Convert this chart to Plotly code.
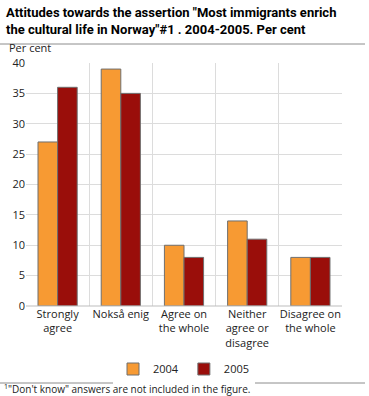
import plotly.graph_objects as go

categories = ["Strongly<br>agree", "Nokså enig", "Agree on<br>the whole",
              "Neither<br>agree or<br>disagree", "Disagree on<br>the whole"]
values_2004 = [27, 39, 10, 14, 8]
values_2005 = [36, 35, 8, 11, 8]
y_ticks = [0, 5, 10, 15, 20, 25, 30, 35, 40]

W, H = 369, 396
L, R, T, B = 26, 27, 63, 90
pw, ph = W - L - R, H - T - B

def px(x):
    return (x - L) / pw

def py(y):
    return (H - B - y) / ph

font = "Open Sans"
fig = go.Figure()
fig.add_bar(x=categories, y=values_2004, name="2004",
            marker=dict(color="#F79A33", line=dict(color="#6f6f6f", width=1)))
fig.add_bar(x=categories, y=values_2005, name="2005",
            marker=dict(color="#9A0E0A", line=dict(color="#6f6f6f", width=1)))

fig.update_layout(
    width=W, height=H,
    margin=dict(l=L, r=R, t=T, b=B, autoexpand=False),
    paper_bgcolor="white", plot_bgcolor="white",
    font=dict(family=font, size=11, color="#222"),
    barmode="group", bargap=0.38, bargroupgap=0,
    showlegend=True,
    legend=dict(orientation="h", x=0.5, xanchor="center", y=py(369), yanchor="middle",
                font=dict(size=11), traceorder="normal"),
    xaxis=dict(tickson="boundaries", showgrid=True, gridcolor="#dcdcdc", gridwidth=1,
               ticks="", showline=False, tickangle=0, automargin=False,
               tickfont=dict(size=11), fixedrange=True),
    yaxis=dict(range=[0, 40], tickvals=y_ticks, showgrid=True, gridcolor="#dcdcdc",
               gridwidth=1, zeroline=False, showline=False, ticks="", automargin=False,
               tickfont=dict(size=11), fixedrange=True),
    shapes=[
        dict(type="line", xref="paper", yref="paper", x0=px(0), x1=px(365),
             y0=py(44), y1=py(44), line=dict(color="#8c8c8c", width=1)),
        dict(type="line", xref="paper", yref="paper", x0=px(0), x1=px(365),
             y0=py(383), y1=py(383), line=dict(color="#8c8c8c", width=1)),
        dict(type="line", xref="paper", yref="paper", x0=0, x1=1,
             y0=0, y1=0, line=dict(color="#bdbdbd", width=1)),
    ],
    annotations=[
        dict(text="<b>Attitudes towards the assertion \"Most immigrants enrich<br>the cultural life in Norway\"#1 . 2004-2005. Per cent</b>",
             xref="paper", yref="paper", x=px(4), y=py(3), xanchor="left", yanchor="top",
             showarrow=False, align="left", font=dict(family="Roboto", size=13, color="#000")),
        dict(text="Per cent", xref="paper", yref="paper", x=px(7), y=py(48),
             xanchor="left", yanchor="middle", showarrow=False, font=dict(size=11)),
        dict(text="<sup>1</sup>\"Don't know\" answers are not included in the figure.",
             xref="paper", yref="paper", x=px(2), y=py(389), xanchor="left", yanchor="middle",
             showarrow=False, font=dict(size=10)),
    ],
)
fig.write_html("out.html", config={"displayModeBar": False},
               post_script="document.body.style.margin='0';")
